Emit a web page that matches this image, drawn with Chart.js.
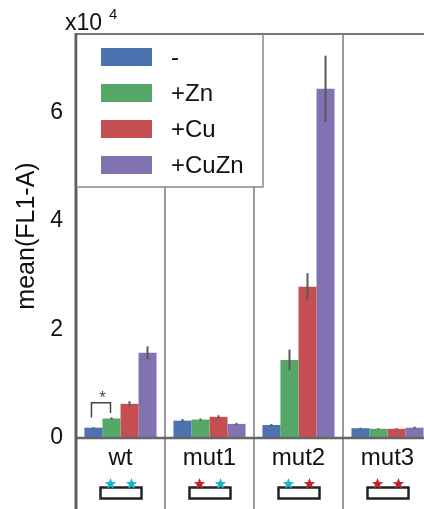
<!DOCTYPE html>
<html>
<head>
<meta charset="utf-8">
<script src="https://cdn.jsdelivr.net/npm/chart.js@4"></script>
<style>
  html, body { margin: 0; padding: 0; background: #fff; overflow: hidden; }
  #wrap { width: 440px; height: 509px; }
</style>
</head>
<body>
<div id="wrap"><canvas id="chart" width="440" height="509"></canvas></div>
<script>
// strains and treatments
const categories = ["wt", "mut1", "mut2", "mut3"];
const conditions = ["-", "+Zn", "+Cu", "+CuZn"];
const colors = ["#4C72B0", "#55A868", "#C44E52", "#8172B2"];

// mean(FL1-A) per strain, one array per treatment
const meanNone = [1900, 3200, 2400, 1800];
const meanZn = [3600, 3400, 14400, 1700];
const meanCu = [6300, 3900, 27900, 1700];
const meanCuZn = [15700, 2600, 64400, 1900];

// error bar half-lengths
const errNone = [100, 300, 200, 100];
const errZn = [200, 200, 1900, 100];
const errCu = [500, 300, 2500, 100];
const errCuZn = [1200, 200, 6100, 200];

const yTicks = [0, 20000, 40000, 60000];

// site markers under each strain: c = cyan, r = red
const sites = [["c", "c"], ["r", "c"], ["c", "r"], ["r", "r"]];

// significance bracket between "-" and "+Zn" of wt
const sigTop = 6500;
const sigEnds = [3800, 4600];

const means = [meanNone, meanZn, meanCu, meanCuZn];
const errs = [errNone, errZn, errCu, errCuZn];
const FONT = "'Liberation Sans', Arial, sans-serif";

function drawStar(ctx, cx, cy, outer, inner, color) {
  ctx.beginPath();
  for (let k = 0; k < 10; k++) {
    const r = k % 2 === 0 ? outer : inner;
    const a = -Math.PI / 2 + (k * Math.PI) / 5;
    const px = cx + r * Math.cos(a);
    const py = cy + r * Math.sin(a);
    if (k === 0) ctx.moveTo(px, py);
    else ctx.lineTo(px, py);
  }
  ctx.closePath();
  ctx.fillStyle = color;
  ctx.fill();
}

const extras = {
  id: "extras",
  afterDatasetsDraw(chart) {
    const ctx = chart.ctx;
    const y = chart.scales.y;
    // error bars
    ctx.save();
    ctx.strokeStyle = "#5a5a5a";
    ctx.lineWidth = 2;
    chart.data.datasets.forEach((ds, di) => {
      const meta = chart.getDatasetMeta(di);
      meta.data.forEach((bar, i) => {
        const v = ds.data[i];
        const e = errs[di][i];
        ctx.beginPath();
        ctx.moveTo(bar.x, y.getPixelForValue(v - e));
        ctx.lineTo(bar.x, y.getPixelForValue(v + e));
        ctx.stroke();
      });
    });
    // significance bracket
    const b0 = chart.getDatasetMeta(0).data[0];
    const b1 = chart.getDatasetMeta(1).data[0];
    const yt = y.getPixelForValue(sigTop);
    ctx.strokeStyle = "#444";
    ctx.lineWidth = 1.5;
    ctx.beginPath();
    ctx.moveTo(b0.x - 2, y.getPixelForValue(sigEnds[0]));
    ctx.lineTo(b0.x - 2, yt);
    ctx.lineTo(b1.x - 1, yt);
    ctx.lineTo(b1.x - 1, y.getPixelForValue(sigEnds[1]));
    ctx.stroke();
    ctx.fillStyle = "#444";
    ctx.font = "17px " + FONT;
    ctx.textAlign = "center";
    ctx.textBaseline = "middle";
    ctx.fillText("*", (b0.x + b1.x) / 2, yt - 4);
    ctx.restore();
  },
  afterDraw(chart) {
    const ctx = chart.ctx;
    const x = chart.scales.x;
    const y = chart.scales.y;
    const area = chart.chartArea;
    const H = chart.height;
    const W = chart.width;
    ctx.save();
    // group dividers
    ctx.strokeStyle = "#9a9a9a";
    ctx.lineWidth = 2;
    for (let i = 0; i < categories.length - 1; i++) {
      const xp = (x.getPixelForValue(i) + x.getPixelForValue(i + 1)) / 2;
      ctx.beginPath();
      ctx.moveTo(xp, area.top);
      ctx.lineTo(xp, H);
      ctx.stroke();
    }
    // top border
    ctx.strokeStyle = "#777";
    ctx.lineWidth = 2;
    ctx.beginPath();
    ctx.moveTo(area.left, area.top);
    ctx.lineTo(W, area.top);
    ctx.stroke();
    // zero line
    const y0 = y.getPixelForValue(0);
    ctx.strokeStyle = "#666";
    ctx.lineWidth = 2.5;
    ctx.beginPath();
    ctx.moveTo(area.left, y0);
    ctx.lineTo(W, y0);
    ctx.stroke();
    // left axis
    ctx.strokeStyle = "#5e5e5e";
    ctx.lineWidth = 3;
    ctx.beginPath();
    ctx.moveTo(area.left, area.top - 1);
    ctx.lineTo(area.left, H);
    ctx.stroke();

    // legend box
    const lx = area.left, ly = area.top, lw = 187, lh = 153;
    ctx.fillStyle = "#fff";
    ctx.fillRect(lx + 1.5, ly + 1, lw - 1.5, lh - 1);
    ctx.strokeStyle = "#888";
    ctx.lineWidth = 1.5;
    ctx.beginPath();
    ctx.moveTo(lx + 1.5, ly + lh);
    ctx.lineTo(lx + lw, ly + lh);
    ctx.lineTo(lx + lw, ly);
    ctx.stroke();
    ctx.font = "24px " + FONT;
    ctx.textAlign = "left";
    ctx.textBaseline = "middle";
    chart.data.datasets.forEach((ds, i) => {
      const cy = ly + 23 + 36 * i;
      ctx.fillStyle = ds.backgroundColor;
      ctx.fillRect(lx + 25, cy - 9, 51, 18);
      ctx.fillStyle = "#111";
      ctx.fillText(ds.label, lx + 95, cy + 1);
    });

    // exponent label
    ctx.fillStyle = "#111";
    ctx.textBaseline = "alphabetic";
    ctx.font = "23px " + FONT;
    ctx.fillText("x10", 65, 30);
    ctx.font = "15px " + FONT;
    ctx.fillText("4", 109, 19);

    // site markers
    categories.forEach((c, i) => {
      const cx = x.getPixelForValue(i);
      ctx.strokeStyle = "#222";
      ctx.lineWidth = 2.5;
      ctx.strokeRect(cx - 20, 487.5, 41, 11);
      sites[i].forEach((s, k) => {
        const sx = cx + (k === 0 ? -10 : 11);
        drawStar(ctx, sx, 484, 6, 2.6, s === "c" ? "#17b6cf" : "#c4232c");
      });
    });
    ctx.restore();
  }
};

new Chart(document.getElementById("chart"), {
  type: "bar",
  data: {
    labels: categories,
    datasets: conditions.map((name, i) => ({
      label: name,
      data: means[i],
      backgroundColor: colors[i],
      borderWidth: 0,
      categoryPercentage: 0.81,
      barPercentage: 1.0
    }))
  },
  options: {
    responsive: false,
    animation: false,
    devicePixelRatio: 1,
    layout: { padding: { left: 0, right: 8, top: 34, bottom: 0 } },
    plugins: { legend: { display: false }, tooltip: { enabled: false } },
    scales: {
      x: {
        grid: { display: false, drawTicks: false },
        border: { display: false },
        ticks: { color: "#111", font: { family: FONT, size: 24 }, padding: 6 },
        afterFit(scale) { scale.height = 71; }
      },
      y: {
        min: 0,
        max: 74500,
        afterBuildTicks(scale) { scale.ticks = yTicks.map(v => ({ value: v })); },
        grid: { display: false, drawTicks: false },
        border: { display: false },
        ticks: {
          color: "#111",
          font: { family: FONT, size: 23 },
          padding: 13,
          callback: v => v / 10000
        },
        title: {
          display: true,
          text: "mean(FL1-A)",
          color: "#111",
          font: { family: FONT, size: 25 },
          padding: { top: 12, bottom: 0 }
        },
        afterFit(scale) { scale.width = 76; }
      }
    }
  },
  plugins: [extras]
});
</script>
</body>
</html>
